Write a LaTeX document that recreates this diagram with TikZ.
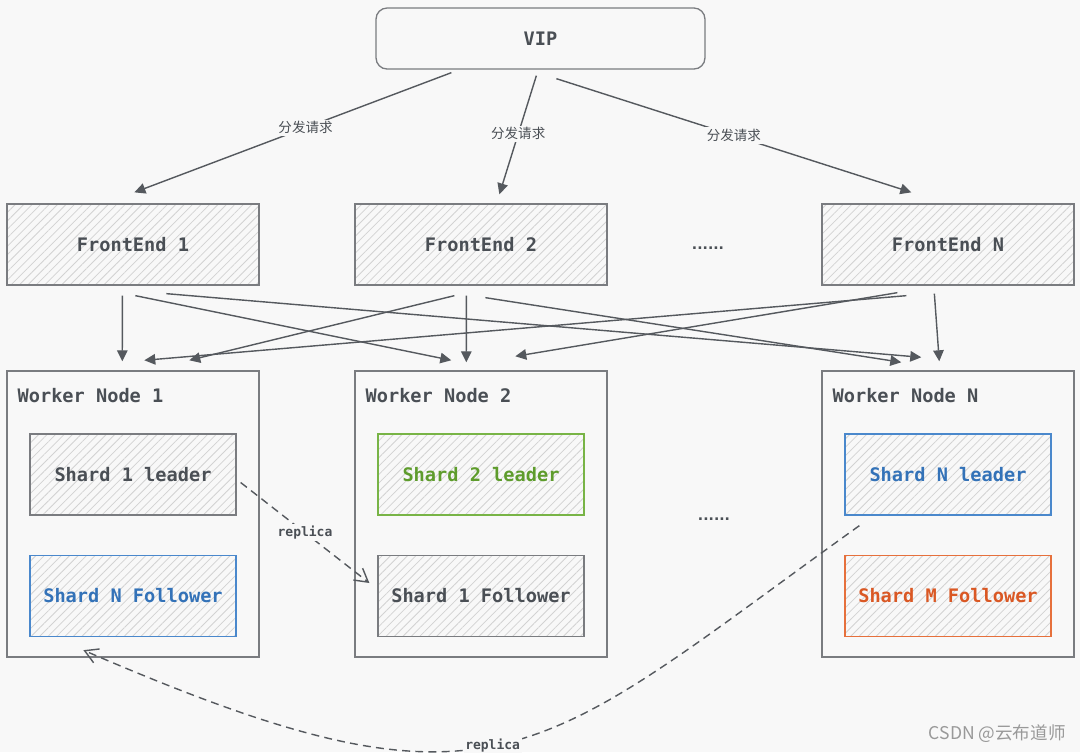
\documentclass[tikz,border=0pt]{standalone}
\usepackage{fontspec}
\setmonofont{DejaVu Sans Mono}
\newfontfamily\cjk{Noto Sans CJK SC}
\newfontfamily\dotfont{DejaVu Sans}
\usetikzlibrary{arrows.meta,patterns.meta,calc}

\definecolor{bgcol}{HTML}{F8F8F8}
\definecolor{txtgray}{HTML}{4A4F55}
\definecolor{boxgray}{HTML}{7A7C80}
\definecolor{hatchgray}{HTML}{D2D2D2}
\definecolor{arrgray}{HTML}{55595E}
\definecolor{shardgreen}{HTML}{78B446}
\definecolor{txtgreen}{HTML}{5E9C2C}
\definecolor{shardblue}{HTML}{4A88CC}
\definecolor{txtblue}{HTML}{3372B8}
\definecolor{shardorange}{HTML}{E6703C}
\definecolor{txtorange}{HTML}{DA5824}

\begin{document}
\begin{tikzpicture}[x=0.02cm,y=-0.02cm,
    mono/.style={font=\ttfamily\bfseries\fontsize{10.6}{12}\selectfont, text=txtgray},
    hatched/.style={pattern={Lines[angle=45,distance=3.4pt,line width=0.45pt]}, pattern color=hatchgray},
    vipbox/.style={mono, draw=boxgray, line width=0.75pt, rounded corners=0.22cm,
        minimum width=6.58cm, minimum height=1.22cm, inner sep=0pt},
    febox/.style={mono, hatched, draw=boxgray, line width=0.75pt,
        minimum width=5.04cm, minimum height=1.62cm, inner sep=0pt},
    worker/.style={draw=boxgray, line width=0.85pt, fill=bgcol,
        minimum width=5.04cm, minimum height=5.72cm, inner sep=0pt},
    wlabel/.style={mono, anchor=west, inner sep=0pt},
    shard/.style={mono, hatched, draw=boxgray, line width=0.75pt,
        minimum width=4.12cm, minimum height=1.62cm, inner sep=0pt},
    greenshard/.style={shard, draw=shardgreen, text=txtgreen},
    blueshard/.style={shard, draw=shardblue, text=txtblue},
    orangeshard/.style={shard, draw=shardorange, text=txtorange},
    dots/.style={font=\dotfont\bfseries\fontsize{8}{9}\selectfont, text=txtgray, inner sep=0pt},
    req/.style={draw=arrgray, line width=0.8pt, -{Triangle[length=2.2mm,width=2.1mm]}},
    reqlabel/.style={font=\cjk\fontsize{7.7}{8}\selectfont, text=txtgray, fill=bgcol, inner sep=1pt},
    rep/.style={draw=arrgray, line width=0.8pt, dash pattern=on 4.5pt off 3pt,
        -{Straight Barb[length=2.6mm,width=3mm,line width=0.8pt]}},
    replabel/.style={font=\ttfamily\bfseries\fontsize{7.4}{8}\selectfont, text=txtgray, fill=bgcol, inner sep=1pt},
    watermark/.style={font=\cjk\fontsize{10}{11}\selectfont, text=black!40, anchor=east, inner sep=0pt}]

    \useasboundingbox (0,0) rectangle (1080,752);
    \fill[bgcol] (0,0) rectangle (1080,752);

    % entrada
    \node[vipbox] (vip) at (540.5,38.5) {VIP};

    % front ends
    \node[febox] (fe1) at (133,244.5) {FrontEnd 1};
    \node[febox] (fe2) at (481,244.5) {FrontEnd 2};
    \node[febox] (fen) at (948,244.5) {FrontEnd N};
    \node[dots] (dots1) at (708,248) {......};

    % worker nodes
    \node[worker] (w1) at (133,514) {};
    \node[worker] (w2) at (481,514) {};
    \node[worker] (wn) at (948,514) {};
    \node[wlabel] (w1lab) at ($(w1.north west)+(11,25)$) {Worker Node 1};
    \node[wlabel] (w2lab) at ($(w2.north west)+(11,25)$) {Worker Node 2};
    \node[wlabel] (wnlab) at ($(wn.north west)+(11,25)$) {Worker Node N};

    % shards
    \node[shard] (s1lead) at (133,474.5) {Shard 1 leader};
    \node[blueshard] (snfol) at (133,596) {Shard N Follower};
    \node[greenshard] (s2lead) at (481,474.5) {Shard 2 leader};
    \node[shard] (s1fol) at (481,596) {Shard 1 Follower};
    \node[blueshard] (snlead) at (948,474.5) {Shard N leader};
    \node[orangeshard] (smfol) at (948,596) {Shard M Follower};
    \node[dots] (dots2) at (714,519) {......};

    % VIP -> front ends
    \draw[req] ($(vip.south west)+(76,3)$) -- node[reqlabel,pos=0.46] {分发请求} ($(fe1.north west)+(128,-11)$);
    \draw[req] ($(vip.south west)+(161,6)$) -- node[reqlabel,pos=0.49] {分发请求} ($(fe2.north west)+(145,-9)$);
    \draw[req] ($(vip.south west)+(181,9)$) -- node[reqlabel,pos=0.5] {分发请求} ($(fen.north west)+(90,-11)$);

    % front ends -> workers
    \draw[req] ($(fe1.south west)+(116,10)$) -- ($(w1.north west)+(116,-9)$);
    \draw[req] ($(fe1.south west)+(129,10)$) -- ($(w2.north west)+(97,-10)$);
    \draw[req] ($(fe1.south west)+(160,8)$) -- ($(wn.north west)+(100,-13)$);
    \draw[req] ($(fe2.south west)+(100,10)$) -- ($(w1.north west)+(183,-10)$);
    \draw[req] ($(fe2.south west)+(112,10)$) -- ($(w2.north west)+(112,-8)$);
    \draw[req] ($(fe2.south west)+(131,12)$) -- ($(wn.north west)+(80,-8)$);
    \draw[req] ($(fen.south west)+(76,7)$) -- ($(w2.north west)+(161,-14)$);
    \draw[req] ($(fen.south west)+(85,10)$) -- ($(w1.north west)+(138,-10)$);
    \draw[req] ($(fen.south west)+(113,8)$) -- ($(wn.north west)+(118,-9)$);

    % replicas
    \draw[rep] ($(s1lead.east)+(4,8)$) -- node[replabel,pos=0.5] {replica} ($(s1fol.west)+(-8,-13)$);
    \draw[rep] ($(snlead.south west)+(15,10)$) .. controls (532,760) and (500,830) ..
        node[replabel,pos=0.52] {replica} ($(snfol.south west)+(54,13)$);

    \node[watermark] (csdn) at (1066,734) {CSDN @云布道师};
\end{tikzpicture}
\end{document}
